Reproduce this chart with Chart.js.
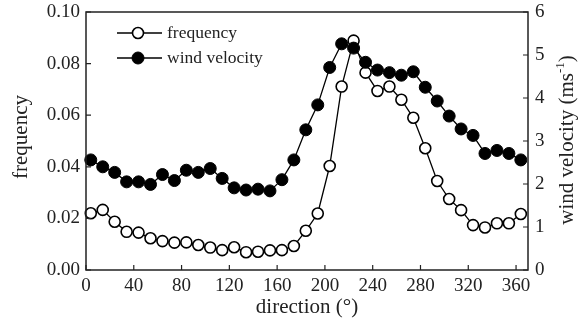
<!DOCTYPE html>
<html>
<head>
<meta charset="utf-8">
<script src="https://cdn.jsdelivr.net/npm/chart.js@4"></script>
<style>
  html, body { margin: 0; padding: 0; background: #fff; }
  canvas { display: block; }
</style>
</head>
<body>
<canvas id="grafico" width="588" height="326"></canvas>
<script>
const direcao = [4, 14, 24, 34, 44, 54, 64, 74, 84, 94, 104, 114, 124, 134, 144, 154, 164, 174, 184,
  194, 204, 214, 224, 234, 244, 254, 264, 274, 284, 294, 304, 314, 324, 334, 344, 354, 364];

const frequencia = [0.0220, 0.0233, 0.0187, 0.0148, 0.0145, 0.0123, 0.0112, 0.0106, 0.0107, 0.0097,
  0.0087, 0.0077, 0.0088, 0.0069, 0.0071, 0.0076, 0.0077, 0.0093, 0.0152, 0.0219,
  0.0403, 0.0711, 0.0889, 0.0765, 0.0694, 0.0711, 0.0660, 0.0590, 0.0472, 0.0345,
  0.0275, 0.0232, 0.0174, 0.0165, 0.0181, 0.0181, 0.0217];

const velocidade = [2.56, 2.40, 2.27, 2.05, 2.05, 1.99, 2.22, 2.08, 2.32, 2.27,
  2.36, 2.13, 1.91, 1.86, 1.88, 1.84, 2.10, 2.56, 3.26, 3.84,
  4.71, 5.26, 5.16, 4.83, 4.65, 4.59, 4.53, 4.61, 4.25, 3.93,
  3.58, 3.28, 3.13, 2.71, 2.78, 2.71, 2.56];

const ticksX = [0, 40, 80, 120, 160, 200, 240, 280, 320, 360];
const ticksFreq = [0, 0.02, 0.04, 0.06, 0.08, 0.10];
const ticksVel = [0, 1, 2, 3, 4, 5, 6];

const fonte = "'Liberation Serif', 'Times New Roman', serif";
const corTexto = "#222";

function pares(valores) {
  return direcao.map((d, i) => ({ x: d, y: valores[i] }));
}

function fixarTicks(lista) {
  return scale => { scale.ticks = lista.map(v => ({ value: v })); };
}

// largura fixa do eixo vertical, sem a folga extra dos rotulos
function larguraFixa(w) {
  return scale => {
    scale.width = w;
    scale.paddingTop = 0;
    scale.paddingBottom = 0;
  };
}

// moldura, ticks para dentro, titulos dos eixos y e legenda
const extras = {
  id: "extras",
  afterDraw(chart) {
    const ctx = chart.ctx;
    const area = chart.chartArea;
    const sx = chart.scales.x, sy = chart.scales.y, sy1 = chart.scales.y1;
    const tam = 5;
    const meio = (area.top + area.bottom) / 2;

    ctx.save();
    ctx.strokeStyle = "#222";
    ctx.lineWidth = 1.5;
    ctx.strokeRect(area.left, area.top, area.right - area.left, area.bottom - area.top);

    ctx.beginPath();
    ticksX.forEach(v => {
      const px = sx.getPixelForValue(v);
      ctx.moveTo(px, area.bottom);
      ctx.lineTo(px, area.bottom - tam);
    });
    ticksFreq.forEach(v => {
      const py = sy.getPixelForValue(v);
      ctx.moveTo(area.left, py);
      ctx.lineTo(area.left + tam, py);
    });
    ticksVel.forEach(v => {
      const py = sy1.getPixelForValue(v);
      ctx.moveTo(area.right, py);
      ctx.lineTo(area.right - tam, py);
    });
    ctx.lineWidth = 1.2;
    ctx.stroke();
    ctx.restore();

    // titulo do eixo esquerdo
    ctx.save();
    ctx.translate(21, meio - 4);
    ctx.rotate(-Math.PI / 2);
    ctx.fillStyle = corTexto;
    ctx.font = "21px " + fonte;
    ctx.textAlign = "center";
    ctx.textBaseline = "middle";
    ctx.fillText("frequency", 0, 0);
    ctx.restore();

    // titulo do eixo direito, lido de baixo para cima
    ctx.save();
    ctx.translate(567, meio - 1);
    ctx.rotate(-Math.PI / 2);
    ctx.fillStyle = corTexto;
    ctx.textBaseline = "middle";
    const p1 = "wind velocity (ms", p2 = "-1", p3 = ")";
    ctx.font = "21px " + fonte;
    const w1 = ctx.measureText(p1).width, w3 = ctx.measureText(p3).width;
    ctx.font = "13px " + fonte;
    const w2 = ctx.measureText(p2).width;
    const x0 = -(w1 + w2 + w3) / 2;
    ctx.textAlign = "left";
    ctx.font = "21px " + fonte;
    ctx.fillText(p1, x0, 0);
    ctx.font = "13px " + fonte;
    ctx.fillText(p2, x0 + w1, -6);
    ctx.font = "21px " + fonte;
    ctx.fillText(p3, x0 + w1 + w2, 0);
    ctx.restore();

    // legenda
    ctx.save();
    chart.data.datasets.forEach((ds, i) => {
      const y = area.top + 21 + i * 25;
      const x0 = area.left + 31;
      ctx.strokeStyle = "#000";
      ctx.lineWidth = 1.3;
      ctx.beginPath();
      ctx.moveTo(x0, y);
      ctx.lineTo(x0 + 45, y);
      ctx.stroke();
      ctx.beginPath();
      ctx.arc(x0 + 21, y, ds.pointRadius, 0, Math.PI * 2);
      ctx.fillStyle = ds.pointBackgroundColor;
      ctx.fill();
      ctx.lineWidth = ds.pointBorderWidth;
      ctx.stroke();
      ctx.fillStyle = corTexto;
      ctx.font = "17.5px " + fonte;
      ctx.textBaseline = "middle";
      ctx.textAlign = "left";
      ctx.fillText(ds.label, x0 + 50, y);
    });
    ctx.restore();
  }
};

new Chart(document.getElementById("grafico"), {
  type: "line",
  data: {
    datasets: [
      {
        label: "frequency",
        data: pares(frequencia),
        yAxisID: "y",
        borderColor: "#000",
        borderWidth: 1.3,
        pointRadius: 5.5,
        pointBorderWidth: 1.6,
        pointBackgroundColor: "#fff",
        pointBorderColor: "#000",
        clip: false,
        order: 2
      },
      {
        label: "wind velocity",
        data: pares(velocidade),
        yAxisID: "y1",
        borderColor: "#000",
        borderWidth: 1.3,
        pointRadius: 6,
        pointBorderWidth: 1,
        pointBackgroundColor: "#000",
        pointBorderColor: "#000",
        clip: false,
        order: 1
      }
    ]
  },
  options: {
    responsive: false,
    animation: false,
    layout: { padding: { top: 12, left: 0, right: 0, bottom: 0 } },
    plugins: {
      legend: { display: false },
      tooltip: { enabled: false }
    },
    scales: {
      x: {
        type: "linear",
        min: 0,
        max: 370,
        afterBuildTicks: fixarTicks(ticksX),
        afterFit: s => { s.height = 56; },
        grid: { display: false, drawTicks: false },
        border: { display: false },
        ticks: {
          color: corTexto,
          padding: 5,
          maxRotation: 0,
          font: { family: fonte, size: 19 }
        },
        title: {
          display: true,
          text: "direction (°)",
          color: corTexto,
          padding: { top: 0, bottom: 6 },
          font: { family: fonte, size: 21 }
        }
      },
      y: {
        position: "left",
        min: 0,
        max: 0.10,
        afterBuildTicks: fixarTicks(ticksFreq),
        afterFit: larguraFixa(86),
        grid: { display: false, drawTicks: false },
        border: { display: false },
        ticks: {
          color: corTexto,
          padding: 6,
          font: { family: fonte, size: 19 },
          callback: v => v.toFixed(2)
        }
      },
      y1: {
        position: "right",
        min: 0,
        max: 6,
        afterBuildTicks: fixarTicks(ticksVel),
        afterFit: larguraFixa(60),
        grid: { display: false, drawTicks: false },
        border: { display: false },
        ticks: {
          color: corTexto,
          padding: 7,
          font: { family: fonte, size: 19 }
        }
      }
    }
  },
  plugins: [extras]
});
</script>
</body>
</html>
